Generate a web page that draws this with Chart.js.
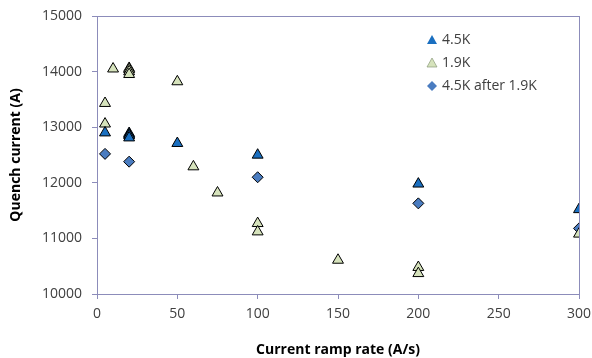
<!DOCTYPE html>
<html>
<head>
<meta charset="utf-8">
<script src="https://cdn.jsdelivr.net/npm/chart.js@4/dist/chart.umd.min.js"></script>
<style>
  html, body { margin: 0; padding: 0; background: #fff; }
  #wrap { width: 592px; height: 358px; }
</style>
</head>
<body>
<div id="wrap"><canvas id="quenchChart"></canvas></div>
<script>
// ramp rate (A/s) and quench current (A) per series
const rate45 = [5, 20, 20, 20, 20, 50, 100, 200, 300];
const current45 = [12900, 12890, 12870, 12850, 12810, 12710, 12500, 11980, 11520];

const rate19 = [5, 5, 10, 20, 20, 20, 20, 50, 60, 75, 100, 100, 150, 200, 200, 300];
const current19 = [13430, 13060, 14050, 14060, 14040, 14000, 13950, 13820, 12290, 11820, 11270, 11120, 10610, 10480, 10370, 11080];

const rateAfter = [5, 20, 100, 200, 300];
const currentAfter = [12520, 12380, 12100, 11630, 11180];

const xTicks = [0, 50, 100, 150, 200, 250, 300];
const yTicks = [10000, 11000, 12000, 13000, 14000, 15000];

const frameColor = '#8c8cba';
const textColor = '#404040';
const fontName = "'Open Sans', sans-serif";

const toPoints = (xs, ys) => xs.map((x, i) => ({ x: x, y: ys[i] }));

// box round the plot area
const framePlugin = {
    id: 'frame',
    beforeDatasetsDraw(chart) {
        const a = chart.chartArea;
        const ctx = chart.ctx;
        ctx.save();
        ctx.strokeStyle = frameColor;
        ctx.lineWidth = 1;
        ctx.strokeRect(a.left + 0.5, a.top + 0.5, a.right - a.left, a.bottom - a.top);
        ctx.restore();
    },
};

// legend drawn inside the plot, top right
const insideLegend = {
    id: 'insideLegend',
    afterDatasetsDraw(chart) {
        const ctx = chart.ctx;
        const x0 = 432;
        let y = 40;
        ctx.save();
        ctx.font = '14px ' + fontName;
        ctx.textBaseline = 'middle';
        chart.data.datasets.forEach((ds) => {
            ctx.fillStyle = ds.pointBackgroundColor;
            ctx.beginPath();
            if (ds.pointStyle === 'triangle') {
                ctx.moveTo(x0, y - 5);
                ctx.lineTo(x0 + 5, y + 4);
                ctx.lineTo(x0 - 5, y + 4);
                ctx.closePath();
                ctx.fill();
                if (ds.legendEdge) {
                    ctx.strokeStyle = ds.legendEdge;
                    ctx.lineWidth = 0.7;
                    ctx.stroke();
                }
            } else {
                ctx.moveTo(x0, y - 5);
                ctx.lineTo(x0 + 5, y);
                ctx.lineTo(x0, y + 5);
                ctx.lineTo(x0 - 5, y);
                ctx.closePath();
                ctx.fill();
            }
            ctx.fillStyle = textColor;
            ctx.fillText(ds.label, x0 + 10, y);
            y += 23;
        });
        ctx.restore();
    },
};

new Chart(document.getElementById('quenchChart'), {
    type: 'scatter',
    data: {
        datasets: [{
            label: '4.5K',
            data: toPoints(rate45, current45),
            pointStyle: 'triangle',
            pointRadius: 6.3,
            pointHoverRadius: 6.3,
            pointBackgroundColor: '#1a6fc0',
            pointBorderColor: '#000',
            pointBorderWidth: 1,
        }, {
            label: '1.9K',
            data: toPoints(rate19, current19),
            pointStyle: 'triangle',
            pointRadius: 6.3,
            pointHoverRadius: 6.3,
            pointBackgroundColor: '#d6e3bc',
            pointBorderColor: '#000',
            pointBorderWidth: 1,
            legendEdge: '#8a9a7a',
        }, {
            label: '4.5K after 1.9K',
            data: toPoints(rateAfter, currentAfter),
            pointStyle: 'rectRot',
            pointRadius: 5.5,
            pointHoverRadius: 5.5,
            pointBackgroundColor: '#4a7cc0',
            pointBorderColor: '#000',
            pointBorderWidth: 1,
        }],
    },
    options: {
        responsive: true,
        maintainAspectRatio: false,
        animation: false,
        layout: { padding: { top: 16, right: 13, left: 0, bottom: 0 } },
        plugins: {
            legend: { display: false },
            tooltip: { enabled: false },
        },
        scales: {
            x: {
                type: 'linear',
                min: 0,
                max: 300,
                afterBuildTicks: (scale) => { scale.ticks = xTicks.map((v) => ({ value: v })); },
                afterFit: (scale) => {
                    scale.height = 64;
                    scale.paddingLeft = 0;
                    scale.paddingRight = 0;
                },
                grid: { drawOnChartArea: false, drawTicks: true, tickLength: 5, color: frameColor },
                border: { color: frameColor },
                ticks: { color: textColor, padding: 7, font: { family: fontName, size: 14 }, maxRotation: 0 },
                title: {
                    display: true,
                    text: 'Current ramp rate (A/s)',
                    color: '#000',
                    font: { family: fontName, size: 14, weight: 'bold' },
                    padding: { top: 0, bottom: 0 },
                },
            },
            y: {
                min: 10000,
                max: 15000,
                afterBuildTicks: (scale) => { scale.ticks = yTicks.map((v) => ({ value: v })); },
                afterFit: (scale) => {
                    scale.width = 97;
                    scale.paddingTop = 0;
                    scale.paddingBottom = 0;
                },
                grid: { drawOnChartArea: false, drawTicks: true, tickLength: 5, color: frameColor },
                border: { color: frameColor },
                ticks: {
                    color: textColor,
                    padding: 10,
                    font: { family: fontName, size: 14 },
                    callback: (v) => String(v),
                },
                title: {
                    display: true,
                    text: 'Quench current (A)',
                    color: '#000',
                    font: { family: fontName, size: 14, weight: 'bold' },
                    padding: { top: 8, bottom: 0 },
                },
            },
        },
    },
    plugins: [framePlugin, insideLegend],
});
</script>
</body>
</html>
